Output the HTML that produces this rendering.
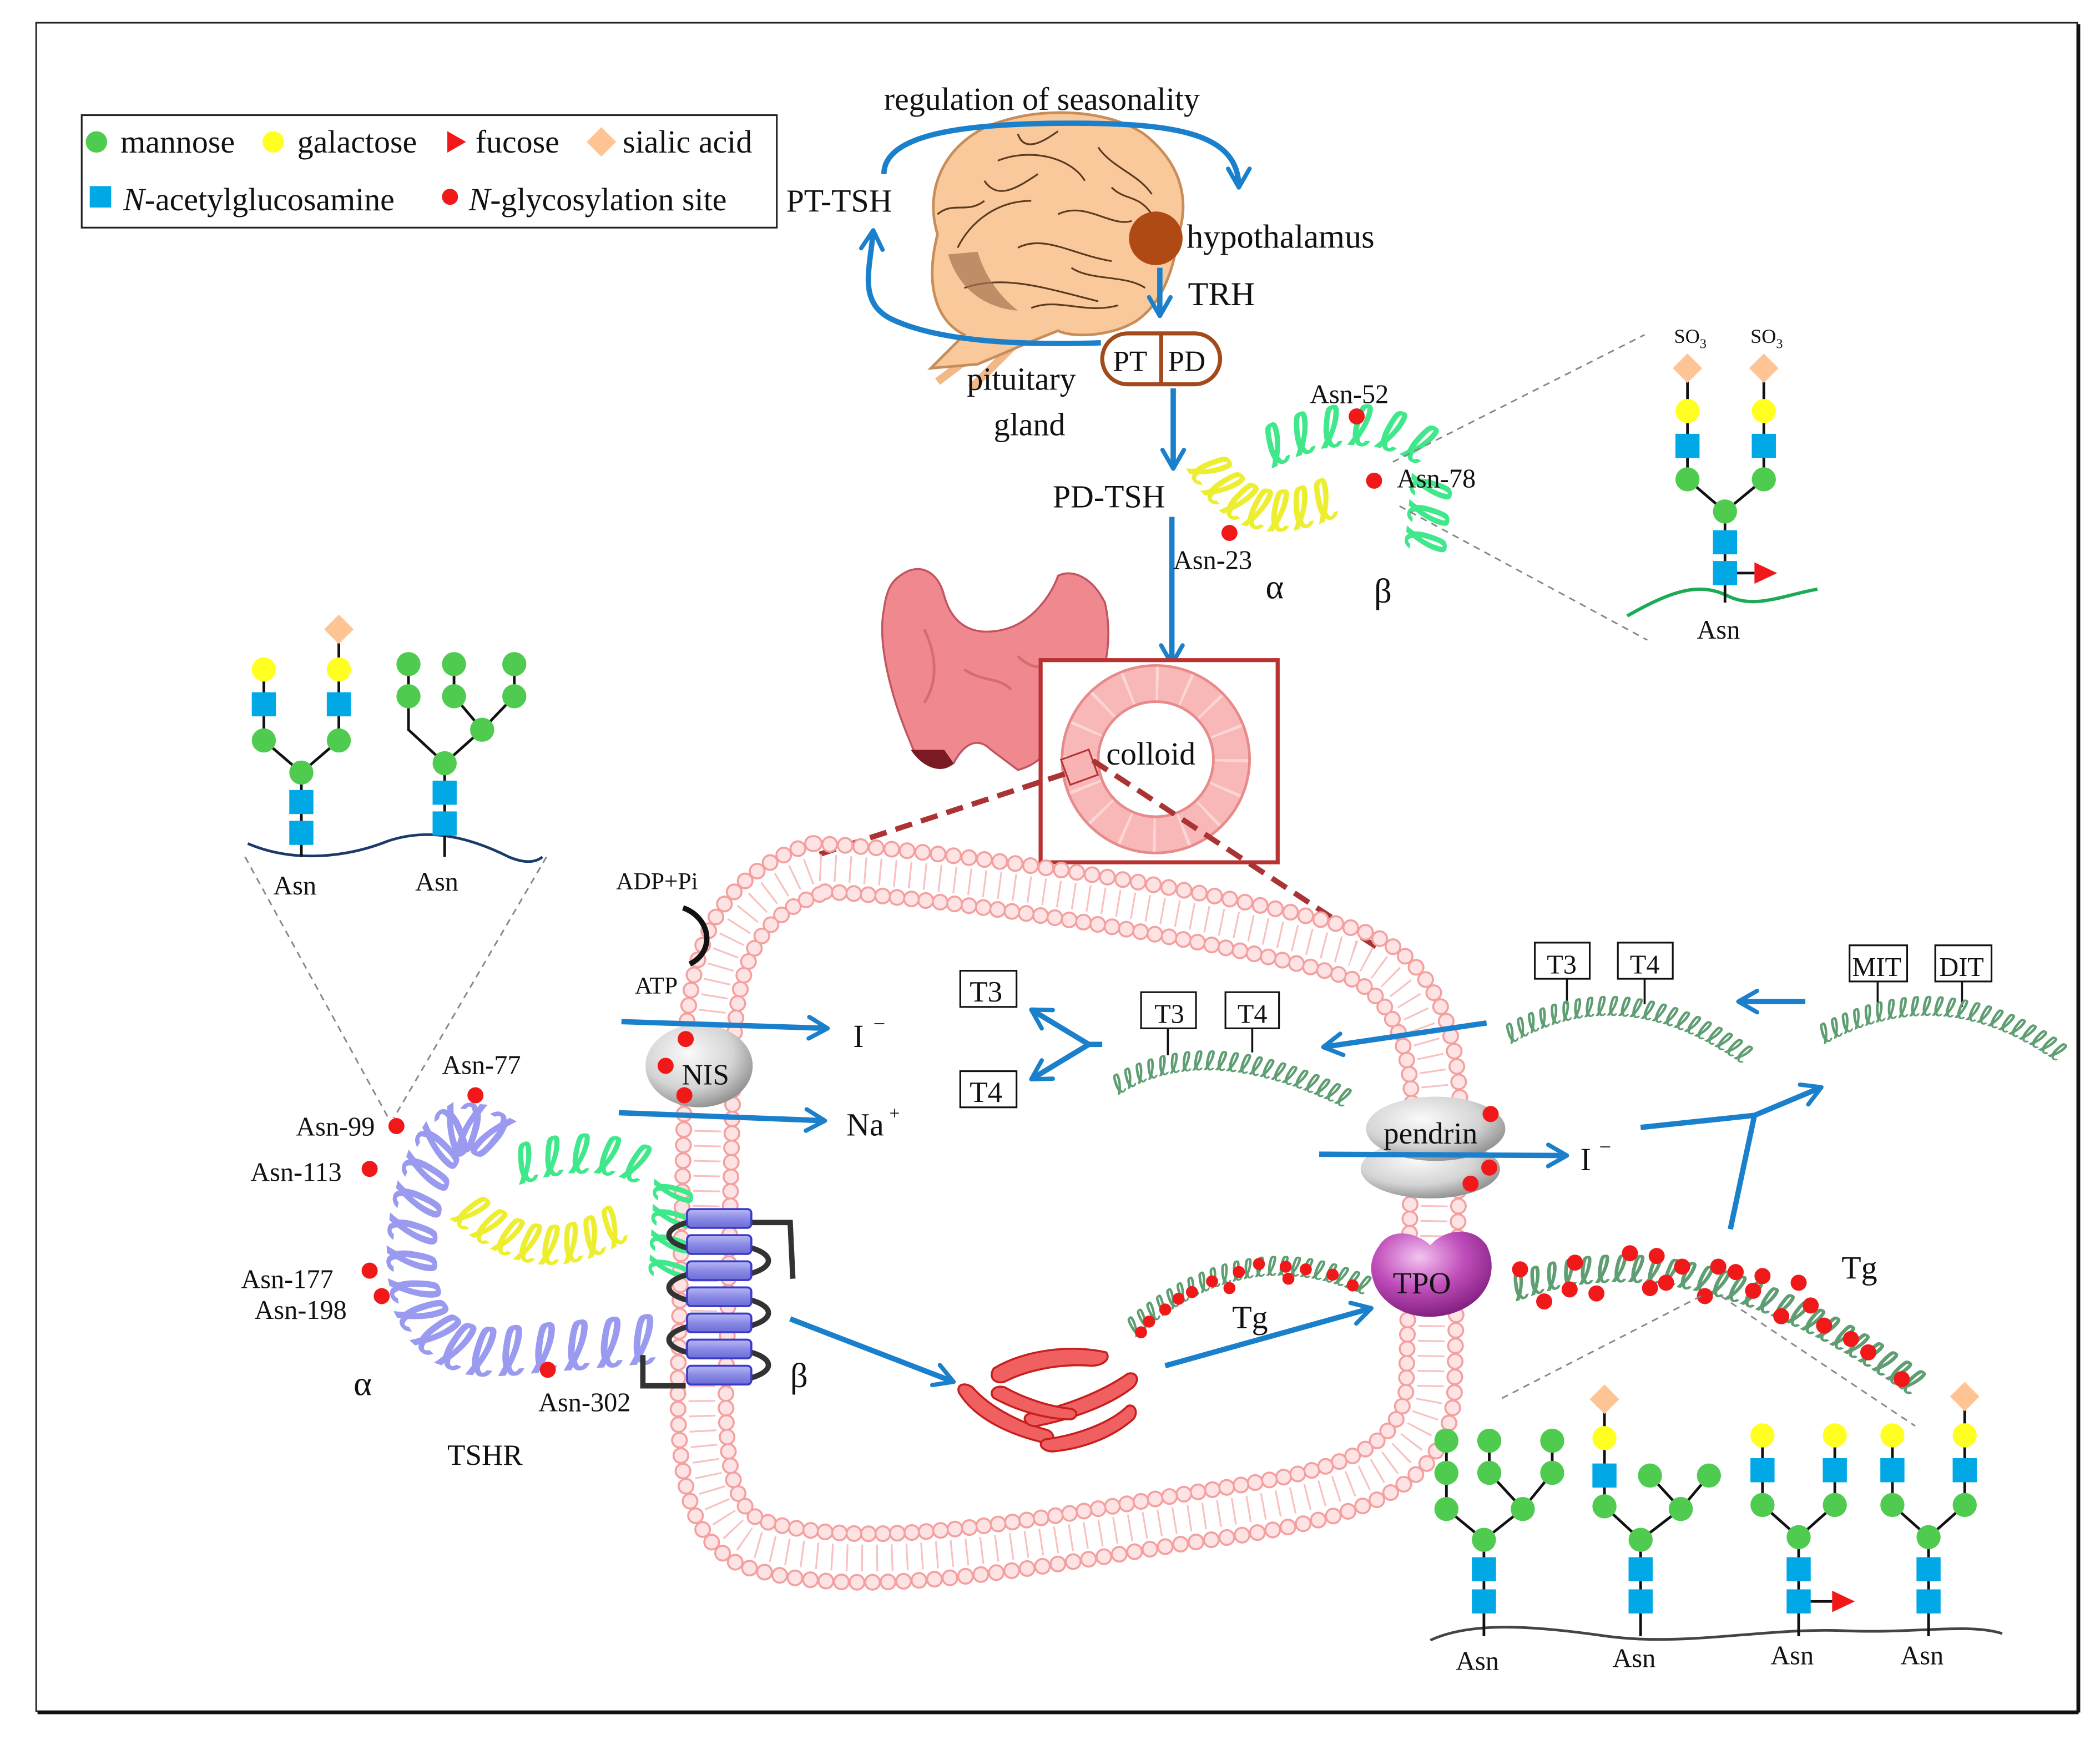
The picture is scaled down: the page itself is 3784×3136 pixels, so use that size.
<!DOCTYPE html>
<html><head><meta charset="utf-8">
<style>
html,body{margin:0;padding:0;background:#fff}
svg{display:block}
text{font-family:"Liberation Serif",serif;fill:#111}
text.coil{font-family:"DejaVu Sans",sans-serif;font-weight:bold}
text.cy{fill:#eeee30}
text.cg{fill:#3fe88a}
text.cp{fill:#9a9af0}
text.ct{fill:#5e9e72}
</style></head>
<body>
<svg xmlns="http://www.w3.org/2000/svg" xmlns:xlink="http://www.w3.org/1999/xlink" width="3784" height="3136" viewBox="0 0 1568 1299.5">
<defs>
<marker id="ah" viewBox="0 0 10 10" refX="8" refY="5" markerWidth="5" markerHeight="5" orient="auto" markerUnits="strokeWidth">
<path d="M1 1 L8 5 L1 9" fill="none" stroke="#1b80cc" stroke-width="1.6" stroke-linecap="round" stroke-linejoin="round"/>
</marker>
<radialGradient id="gray" cx="40%" cy="35%" r="70%"><stop offset="0" stop-color="#fafafa"/><stop offset="0.6" stop-color="#d4d4d4"/><stop offset="1" stop-color="#8a8a8a"/></radialGradient>
<radialGradient id="purp" cx="40%" cy="30%" r="75%"><stop offset="0" stop-color="#f3c4f0"/><stop offset="0.5" stop-color="#c04dbb"/><stop offset="1" stop-color="#7a1a78"/></radialGradient>
<linearGradient id="cyl" x1="0" y1="0" x2="0" y2="1"><stop offset="0" stop-color="#b8b8f5"/><stop offset="0.5" stop-color="#8a8ae6"/><stop offset="1" stop-color="#6d6dd6"/></linearGradient>
<path id="c1" d="M835 818 Q900 776 1005 828"/>
<path id="c2" d="M1128 780 Q1210 731 1300 794"/>
<path id="c3" d="M1362 780 Q1450 731 1537 794"/>
<path id="c4" d="M848 999 Q930 926 1020 968"/>
<path id="c5" d="M1132 972 Q1260 922 1430 1045"/>
<path id="y1" d="M886 350 Q925 420 1000 385"/>
<path id="g1" d="M950 350 Q1010 318 1055 345 L1048 418"/>
<path id="y2" d="M336 910 Q400 970 470 925"/>
<path id="g2" d="M388 885 Q445 865 488 890 L484 960"/>
<path id="p1" d="M385 838 Q330 800 303 865 Q280 925 295 980 Q315 1028 370 1028 L490 1018"/>
</defs>

<!-- frame -->
<rect x="27" y="17" width="1524" height="1261" fill="none" stroke="#222" stroke-width="1.2"/>
<line x1="1552" y1="18" x2="1552" y2="1279" stroke="#111" stroke-width="2.5"/>
<line x1="28" y1="1279" x2="1552" y2="1279" stroke="#111" stroke-width="2.5"/>

<!-- legend -->
<rect x="61" y="86" width="519" height="84" fill="#fff" stroke="#222" stroke-width="1.3"/>
<circle cx="72" cy="106" r="8" fill="#4fcb4f"/><text x="90" y="114" font-size="24">mannose</text>
<circle cx="204" cy="106" r="8" fill="#ffff22"/><text x="222" y="114" font-size="24">galactose</text>
<path d="M334 98 L348 106 L334 114Z" fill="#f01818"/><text x="355" y="114" font-size="24">fucose</text>
<path d="M449 95 L460 106 L449 117 L438 106Z" fill="#ffc494"/><text x="465" y="114" font-size="24">sialic acid</text>
<rect x="67" y="139" width="16" height="16" fill="#00a8e6"/><text x="92" y="157" font-size="24"><tspan font-style="italic">N</tspan>-acetylglucosamine</text>
<circle cx="336" cy="147" r="6" fill="#f01818"/><text x="350" y="157" font-size="24"><tspan font-style="italic">N</tspan>-glycosylation site</text>

<!-- brain -->
<g>
<path d="M740 255 L700 285 M760 255 L725 290" stroke="#f2b888" stroke-width="6" fill="none"/>
<path d="M700 175 C688 135 712 100 750 90 C790 78 840 85 860 105 C882 125 888 150 880 175 C876 205 866 228 848 240 C828 252 800 252 790 247 L770 255 L730 272 L695 275 L720 250 C700 240 690 215 700 175Z" fill="#f9c99b" stroke="#c88e5a" stroke-width="2"/>
<path d="M715 185 C725 165 745 150 770 150 M745 120 C770 110 800 118 810 135 M790 160 C810 150 830 170 845 165 M720 215 C750 205 780 215 820 225 M760 185 C780 175 800 190 830 195 M735 135 C745 150 760 140 775 130 M820 110 C830 125 850 130 860 145 M800 200 C815 210 840 205 855 215 M760 100 C765 115 780 105 790 98 M830 140 C840 150 850 145 860 160 M700 160 C712 150 722 160 735 150 M770 230 C790 222 810 235 835 228" fill="none" stroke="#5a3a20" stroke-width="1.3"/>
<path d="M708 190 C715 215 735 230 760 232 C745 220 735 205 730 188Z" fill="#a57550" opacity="0.7"/>
</g>
<text x="660" y="82" font-size="24">regulation of seasonality</text>
<path d="M660 130 C660 100 720 92 800 92 C880 92 925 100 925 140" fill="none" stroke="#1b80cc" stroke-width="4" marker-end="url(#ah)"/>
<path d="M822 256 C760 258 700 255 665 238 C640 225 650 200 652 172" fill="none" stroke="#1b80cc" stroke-width="4" marker-end="url(#ah)"/>
<text x="587" y="158" font-size="24">PT-TSH</text>
<circle cx="863" cy="178" r="20" fill="#b04a14"/>
<text x="886" y="185" font-size="25">hypothalamus</text>
<line x1="866" y1="200" x2="866" y2="236" stroke="#1b80cc" stroke-width="4" marker-end="url(#ah)"/>
<text x="887" y="228" font-size="25">TRH</text>
<rect x="823" y="249" width="88" height="38" rx="19" fill="#fff" stroke="#a24a1a" stroke-width="3"/>
<line x1="867" y1="249" x2="867" y2="287" stroke="#a24a1a" stroke-width="3"/>
<text x="831" y="277" font-size="22">PT</text><text x="872" y="277" font-size="22">PD</text>
<text x="722" y="291" font-size="24">pituitary</text>
<text x="742" y="325" font-size="24">gland</text>
<line x1="876" y1="290" x2="876" y2="350" stroke="#1b80cc" stroke-width="4" marker-end="url(#ah)"/>
<text x="786" y="379" font-size="24">PD-TSH</text>
<line x1="875" y1="386" x2="875" y2="496" stroke="#1b80cc" stroke-width="4" marker-end="url(#ah)"/>

<!-- TSH top -->
<text class="coil cy" font-size="42" letter-spacing="0"><textPath xlink:href="#y1" href="#y1">ℓℓℓℓℓℓℓℓℓℓℓℓ</textPath></text>
<text class="coil cg" font-size="42" letter-spacing="0"><textPath xlink:href="#g1" href="#g1">ℓℓℓℓℓℓℓℓℓℓℓℓℓℓ</textPath></text>
<circle cx="1013" cy="311" r="6" fill="#f01818"/>
<circle cx="1026" cy="359" r="6" fill="#f01818"/>
<circle cx="918" cy="398" r="6" fill="#f01818"/>
<text x="978" y="301" font-size="20">Asn-52</text>
<text x="1043" y="364" font-size="20">Asn-78</text>
<text x="876" y="425" font-size="20">Asn-23</text>
<text x="945" y="447" font-size="26">α</text>
<text x="1026" y="450" font-size="26">β</text>

<!-- top-right glycan -->
<line x1="1040" y1="345" x2="1228" y2="250" stroke="#888" stroke-width="1.2" stroke-dasharray="5 4"/>
<line x1="1045" y1="378" x2="1230" y2="478" stroke="#888" stroke-width="1.2" stroke-dasharray="5 4"/>
<path d="M1215 460 C1250 440 1270 435 1290 445 C1310 455 1330 445 1357 440" fill="none" stroke="#1daa55" stroke-width="2.5"/>
<g stroke="#111" stroke-width="2" fill="none">
<path d="M1288 450 V382 L1260 358 V275 M1288 382 L1317 358 V275 M1288 428 H1310"/>
</g>
<path d="M1310 420 L1327 428 L1310 436Z" fill="#f01818"/>
<g fill="#00a8e6"><rect x="1279" y="419" width="18" height="18"/><rect x="1279" y="396" width="18" height="18"/><rect x="1251" y="324" width="18" height="18"/><rect x="1308" y="324" width="18" height="18"/></g>
<g fill="#4fcb4f"><circle cx="1288" cy="382" r="9"/><circle cx="1260" cy="358" r="9"/><circle cx="1317" cy="358" r="9"/></g>
<g fill="#ffff22"><circle cx="1260" cy="307" r="9"/><circle cx="1317" cy="307" r="9"/></g>
<g fill="#ffc494"><path d="M1260 264 L1271 275 L1260 286 L1249 275Z"/><path d="M1317 264 L1328 275 L1317 286 L1306 275Z"/></g>
<text x="1250" y="256" font-size="15">SO<tspan font-size="10" dy="4">3</tspan></text>
<text x="1307" y="256" font-size="15">SO<tspan font-size="10" dy="4">3</tspan></text>
<text x="1267" y="477" font-size="20">Asn</text>

<!-- thyroid gland -->
<path d="M672 430 C685 420 700 425 705 445 C712 470 730 475 750 470 C770 465 785 445 790 430 C800 425 815 430 825 450 C832 480 825 520 800 540 C785 555 780 570 760 575 L740 560 C730 550 720 555 712 570 C700 578 685 570 680 555 C665 520 655 480 660 455 C662 440 666 434 672 430Z" fill="#f0898f" stroke="#c2555f" stroke-width="1.5"/>
<path d="M680 560 C690 575 705 578 712 570 L705 560Z" fill="#7a1a22"/>
<path d="M690 470 C700 490 700 510 690 525 M760 490 C770 500 780 500 790 495 M720 500 C735 510 745 505 755 515" stroke="#d86a70" fill="none" stroke-width="2"/>

<!-- colloid -->
<rect x="777" y="493" width="177" height="151" fill="#fff" stroke="#b83232" stroke-width="3"/>
<circle cx="863" cy="567" r="56.5" fill="none" stroke="#e88a8a" stroke-width="29"/>
<circle cx="863" cy="567" r="56.5" fill="none" stroke="#f8b8b8" stroke-width="25"/>
<circle cx="863" cy="567" r="56.5" fill="none" stroke="#fcd6d6" stroke-width="25" stroke-dasharray="2 20.18"/>
<text x="826" y="571" font-size="24">colloid</text>
<rect x="795" y="563" width="22" height="20" fill="#f8b4b4" stroke="#b83232" stroke-width="1.3" transform="rotate(-20 806 573)"/>
<line x1="795" y1="578" x2="612" y2="638" stroke="#a33" stroke-width="4" stroke-dasharray="13 7"/>
<line x1="816" y1="568" x2="1032" y2="710" stroke="#a33" stroke-width="4" stroke-dasharray="13 7"/>

<!-- membrane -->
<path d="M612 648 C700 652 900 680 1010 712 C1060 730 1075 790 1072 850 L1068 1040 C1060 1110 980 1120 880 1135 C760 1155 640 1178 560 1152 C525 1132 522 1080 525 1000 L530 780 C533 700 560 665 612 648 Z" fill="none" stroke="#f8c0c0" stroke-width="20" stroke-dasharray="1.3 9.9"/>
<path d="M608 630 C700 634 905 662 1016 695 C1078 716 1093 785 1090 850 L1086 1042 C1078 1125 990 1138 883 1153 C760 1173 635 1197 553 1169 C507 1145 504 1085 507 1000 L512 780 C515 690 548 650 606 630 Z" fill="none" stroke="#f4a0a0" stroke-width="12.5" stroke-linecap="round" stroke-dasharray="0 11.6"/>
<path d="M608 630 C700 634 905 662 1016 695 C1078 716 1093 785 1090 850 L1086 1042 C1078 1125 990 1138 883 1153 C760 1173 635 1197 553 1169 C507 1145 504 1085 507 1000 L512 780 C515 690 548 650 606 630 Z" fill="none" stroke="#fde3e3" stroke-width="9.5" stroke-linecap="round" stroke-dasharray="0 11.6"/>
<path d="M616 666 C700 670 895 698 1004 729 C1045 744 1057 795 1054 850 L1050 1038 C1042 1095 970 1102 877 1117 C760 1137 645 1159 567 1135 C543 1120 540 1080 543 1000 L548 780 C551 710 572 680 618 666 Z" fill="none" stroke="#f4a0a0" stroke-width="12.5" stroke-linecap="round" stroke-dasharray="0 10.8"/>
<path d="M616 666 C700 670 895 698 1004 729 C1045 744 1057 795 1054 850 L1050 1038 C1042 1095 970 1102 877 1117 C760 1137 645 1159 567 1135 C543 1120 540 1080 543 1000 L548 780 C551 710 572 680 618 666 Z" fill="none" stroke="#fde3e3" stroke-width="9.5" stroke-linecap="round" stroke-dasharray="0 10.8"/>

<!-- top-left glycans -->
<line x1="183" y1="640" x2="290" y2="835" stroke="#888" stroke-width="1.2" stroke-dasharray="5 4"/>
<line x1="408" y1="640" x2="294" y2="835" stroke="#888" stroke-width="1.2" stroke-dasharray="5 4"/>
<path d="M185 630 C220 645 260 640 290 628 C320 618 350 625 380 640 C392 645 400 644 405 640" fill="none" stroke="#1a3a6a" stroke-width="2"/>
<g stroke="#111" stroke-width="2" fill="none">
<path d="M225 640 V577 L197 553 V500 M225 577 L253 553 V470"/>
<path d="M332 640 V570 L305 545 V496 M332 570 L360 545 L384 520 V496 M360 545 L339 520 V496"/>
</g>
<g fill="#00a8e6"><rect x="216" y="613" width="18" height="18"/><rect x="216" y="590" width="18" height="18"/><rect x="188" y="517" width="18" height="18"/><rect x="244" y="517" width="18" height="18"/><rect x="323" y="606" width="18" height="18"/><rect x="323" y="583" width="18" height="18"/></g>
<g fill="#4fcb4f"><circle cx="225" cy="577" r="9"/><circle cx="197" cy="553" r="9"/><circle cx="253" cy="553" r="9"/><circle cx="332" cy="570" r="9"/><circle cx="360" cy="545" r="9"/><circle cx="305" cy="520" r="9"/><circle cx="339" cy="520" r="9"/><circle cx="384" cy="520" r="9"/><circle cx="305" cy="496" r="9"/><circle cx="339" cy="496" r="9"/><circle cx="384" cy="496" r="9"/></g>
<g fill="#ffff22"><circle cx="197" cy="500" r="9"/><circle cx="253" cy="500" r="9"/></g>
<path d="M253 459 L264 470 L253 481 L242 470Z" fill="#ffc494"/>
<text x="204" y="668" font-size="20">Asn</text>
<text x="310" y="665" font-size="20">Asn</text>

<!-- NIS -->
<text x="460" y="664" font-size="18">ADP+Pi</text>
<path d="M510 678 C530 685 535 710 515 720" fill="none" stroke="#111" stroke-width="4"/>
<text x="474" y="742" font-size="18">ATP</text>
<ellipse cx="522" cy="796" rx="40" ry="31" fill="url(#gray)"/>
<circle cx="512" cy="776" r="6" fill="#f01818"/><circle cx="497" cy="796" r="6" fill="#f01818"/><circle cx="511" cy="818" r="6" fill="#f01818"/>
<text x="509" y="810" font-size="22">NIS</text>
<line x1="464" y1="763" x2="618" y2="768" stroke="#1b80cc" stroke-width="4" marker-end="url(#ah)"/>
<line x1="462" y1="831" x2="616" y2="837" stroke="#1b80cc" stroke-width="4" marker-end="url(#ah)"/>
<text x="637" y="782" font-size="24">I</text><text x="652" y="770" font-size="16">−</text>
<text x="632" y="848" font-size="24">Na</text><text x="664" y="836" font-size="14">+</text>

<!-- T3 T4 inside -->
<rect x="717" y="725" width="42" height="27" fill="#fff" stroke="#111" stroke-width="1.3"/><text x="724" y="748" font-size="22">T3</text>
<rect x="717" y="800" width="42" height="27" fill="#fff" stroke="#111" stroke-width="1.3"/><text x="724" y="823" font-size="22">T4</text>
<line x1="823" y1="780" x2="813" y2="780" stroke="#1b80cc" stroke-width="4"/>
<line x1="813" y1="780" x2="770" y2="754" stroke="#1b80cc" stroke-width="4" marker-end="url(#ah)"/>
<line x1="813" y1="780" x2="770" y2="806" stroke="#1b80cc" stroke-width="4" marker-end="url(#ah)"/>
<rect x="852" y="741" width="41" height="27" fill="#fff" stroke="#111" stroke-width="1.3"/><text x="862" y="764" font-size="20">T3</text>
<rect x="915" y="741" width="40" height="27" fill="#fff" stroke="#111" stroke-width="1.3"/><text x="924" y="764" font-size="20">T4</text>
<line x1="872" y1="768" x2="872" y2="788" stroke="#111" stroke-width="1.5"/>
<line x1="935" y1="768" x2="935" y2="786" stroke="#111" stroke-width="1.5"/>

<line x1="1110" y1="764" x2="988" y2="782" stroke="#1b80cc" stroke-width="4" marker-end="url(#ah)"/>
<rect x="1146" y="704" width="41" height="27" fill="#fff" stroke="#111" stroke-width="1.3"/><text x="1155" y="727" font-size="20">T3</text>
<rect x="1208" y="704" width="41" height="27" fill="#fff" stroke="#111" stroke-width="1.3"/><text x="1217" y="727" font-size="20">T4</text>
<line x1="1170" y1="731" x2="1170" y2="750" stroke="#111" stroke-width="1.5"/>
<line x1="1228" y1="731" x2="1228" y2="750" stroke="#111" stroke-width="1.5"/>
<line x1="1348" y1="748" x2="1298" y2="748" stroke="#1b80cc" stroke-width="4" marker-end="url(#ah)"/>
<rect x="1381" y="706" width="43" height="27" fill="#fff" stroke="#111" stroke-width="1.3"/><text x="1383" y="729" font-size="20">MIT</text>
<rect x="1445" y="706" width="42" height="27" fill="#fff" stroke="#111" stroke-width="1.3"/><text x="1448" y="729" font-size="20">DIT</text>
<line x1="1402" y1="733" x2="1402" y2="752" stroke="#111" stroke-width="1.5"/>
<line x1="1465" y1="733" x2="1465" y2="752" stroke="#111" stroke-width="1.5"/>

<!-- Tg coils -->
<text class="coil ct" font-size="20" letter-spacing="-1"><textPath xlink:href="#c1" href="#c1">ℓℓℓℓℓℓℓℓℓℓℓℓℓℓℓℓℓℓℓℓℓℓℓℓℓℓℓℓℓℓℓℓ</textPath></text>
<text class="coil ct" font-size="20" letter-spacing="-1"><textPath xlink:href="#c2" href="#c2">ℓℓℓℓℓℓℓℓℓℓℓℓℓℓℓℓℓℓℓℓℓℓℓℓℓℓℓℓℓℓℓℓ</textPath></text>
<text class="coil ct" font-size="20" letter-spacing="-1"><textPath xlink:href="#c3" href="#c3">ℓℓℓℓℓℓℓℓℓℓℓℓℓℓℓℓℓℓℓℓℓℓℓℓℓℓℓℓℓℓℓℓ</textPath></text>
<text class="coil ct" font-size="20" letter-spacing="-1"><textPath xlink:href="#c4" href="#c4">ℓℓℓℓℓℓℓℓℓℓℓℓℓℓℓℓℓℓℓℓℓℓℓℓℓℓℓℓℓℓℓℓ</textPath></text>
<text class="coil ct" font-size="28" letter-spacing="-1"><textPath xlink:href="#c5" href="#c5">ℓℓℓℓℓℓℓℓℓℓℓℓℓℓℓℓℓℓℓℓℓℓℓℓℓℓℓℓℓℓℓℓℓℓℓℓ</textPath></text>
<g fill="#f01818">
<circle cx="858" cy="987" r="4.5"/><circle cx="870" cy="978" r="4.5"/><circle cx="890" cy="965" r="4.5"/><circle cx="905" cy="957" r="4.5"/><circle cx="925" cy="950" r="4.5"/><circle cx="940" cy="944" r="4.5"/><circle cx="960" cy="946" r="4.5"/><circle cx="975" cy="948" r="4.5"/><circle cx="995" cy="952" r="4.5"/><circle cx="1010" cy="960" r="4.5"/><circle cx="852" cy="995" r="4.5"/><circle cx="880" cy="970" r="4.5"/><circle cx="918" cy="962" r="4.5"/><circle cx="962" cy="955" r="4.5"/>
<circle cx="1135" cy="948" r="6"/><circle cx="1153" cy="972" r="6"/><circle cx="1176" cy="943" r="6"/><circle cx="1172" cy="963" r="6"/><circle cx="1192" cy="966" r="6"/><circle cx="1217" cy="936" r="6"/><circle cx="1237" cy="938" r="6"/><circle cx="1244" cy="958" r="6"/><circle cx="1256" cy="946" r="6"/><circle cx="1273" cy="968" r="6"/><circle cx="1283" cy="946" r="6"/><circle cx="1296" cy="950" r="6"/><circle cx="1309" cy="964" r="6"/><circle cx="1316" cy="953" r="6"/><circle cx="1330" cy="983" r="6"/><circle cx="1343" cy="958" r="6"/><circle cx="1352" cy="975" r="6"/><circle cx="1362" cy="990" r="6"/><circle cx="1382" cy="1000" r="6"/><circle cx="1395" cy="1010" r="6"/><circle cx="1420" cy="1030" r="6"/><circle cx="1232" cy="962" r="6"/>
</g>

<!-- pendrin -->
<ellipse cx="1068" cy="873" rx="52" ry="22" fill="url(#gray)"/>
<ellipse cx="1072" cy="843" rx="52" ry="24" fill="url(#gray)"/>
<circle cx="1113" cy="832" r="6" fill="#f01818"/><circle cx="1112" cy="872" r="6" fill="#f01818"/><circle cx="1098" cy="884" r="6" fill="#f01818"/>
<text x="1033" y="854" font-size="23">pendrin</text>
<line x1="985" y1="862" x2="1170" y2="863" stroke="#1b80cc" stroke-width="4" marker-end="url(#ah)"/>
<text x="1180" y="874" font-size="24">I</text><text x="1194" y="862" font-size="16">−</text>
<path d="M1225 842 L1310 833 L1292 918" fill="none" stroke="#1b80cc" stroke-width="4"/>
<line x1="1310" y1="833" x2="1360" y2="812" stroke="#1b80cc" stroke-width="4" marker-end="url(#ah)"/>

<!-- TPO -->
<path d="M1030 930 C1040 915 1060 922 1068 930 C1078 918 1100 915 1110 930 C1120 950 1110 975 1080 982 C1055 988 1030 975 1025 955 C1022 945 1025 937 1030 930Z" fill="url(#purp)"/>
<text x="1040" y="966" font-size="23">TPO</text>
<text x="1375" y="955" font-size="24">Tg</text>
<text x="920" y="992" font-size="24">Tg</text>
<line x1="870" y1="1020" x2="1024" y2="977" stroke="#1b80cc" stroke-width="4" marker-end="url(#ah)"/>
<line x1="590" y1="985" x2="712" y2="1032" stroke="#1b80cc" stroke-width="4" marker-end="url(#ah)"/>

<!-- ER -->
<g fill="#f06060" stroke="#c81e1e" stroke-width="1.5" stroke-linejoin="round">
<path d="M742 1022 C765 1008 800 1004 826 1010 C830 1016 822 1020 815 1020 C790 1018 765 1024 750 1032 C742 1034 738 1028 742 1022Z"/>
<path d="M716 1040 C728 1060 755 1072 782 1078 C788 1078 788 1070 782 1068 C760 1062 738 1050 726 1036 C720 1032 714 1034 716 1040Z"/>
<path d="M768 1056 C795 1050 822 1040 842 1026 C848 1024 852 1030 846 1036 C828 1050 800 1060 774 1065 C766 1066 762 1058 768 1056Z"/>
<path d="M742 1044 C760 1054 782 1060 800 1060 C806 1058 804 1052 798 1052 C782 1050 764 1044 750 1036 C742 1034 738 1040 742 1044Z"/>
<path d="M780 1075 C805 1072 830 1062 842 1050 C848 1048 850 1056 846 1060 C830 1074 808 1082 786 1084 C778 1084 774 1078 780 1075Z"/>
</g>

<!-- TSHR -->
<text class="coil cp" font-size="50" letter-spacing="1"><textPath xlink:href="#p1" href="#p1">ℓℓℓℓℓℓℓℓℓℓℓℓℓℓℓℓℓℓℓℓℓℓ</textPath></text>
<text class="coil cy" font-size="40" letter-spacing="0"><textPath xlink:href="#y2" href="#y2">ℓℓℓℓℓℓℓℓℓℓℓℓ</textPath></text>
<text class="coil cg" font-size="40" letter-spacing="0"><textPath xlink:href="#g2" href="#g2">ℓℓℓℓℓℓℓℓℓℓℓℓℓℓ</textPath></text>
<path d="M480 1012 L480 1035 L512 1035" fill="none" stroke="#333" stroke-width="4"/>
<path d="M513 913 C495 918 495 927 513 932 M561 932 C578 937 578 946 561 951 M513 952 C495 957 495 966 513 971 M561 971 C578 976 578 985 561 990 M513 991 C495 996 495 1005 513 1010 M561 1010 C578 1015 578 1024 561 1029 M561 913 L590 913 L592 955" fill="none" stroke="#333" stroke-width="4"/>
<g fill="url(#cyl)" stroke="#3a3ac8" stroke-width="1.5">
<rect x="513" y="903" width="48" height="14" rx="3"/><rect x="513" y="922.5" width="48" height="14" rx="3"/><rect x="513" y="942" width="48" height="14" rx="3"/><rect x="513" y="961.5" width="48" height="14" rx="3"/><rect x="513" y="981" width="48" height="14" rx="3"/><rect x="513" y="1000.5" width="48" height="14" rx="3"/><rect x="513" y="1020" width="48" height="14" rx="3"/>
</g>
<circle cx="355" cy="818" r="6" fill="#f01818"/>
<circle cx="296" cy="841" r="6" fill="#f01818"/>
<circle cx="276" cy="873" r="6" fill="#f01818"/>
<circle cx="276" cy="949" r="6" fill="#f01818"/>
<circle cx="285" cy="968" r="6" fill="#f01818"/>
<circle cx="409" cy="1023" r="6" fill="#f01818"/>
<text x="330" y="802" font-size="20">Asn-77</text>
<text x="221" y="848" font-size="20">Asn-99</text>
<text x="187" y="882" font-size="20">Asn-113</text>
<text x="180" y="962" font-size="20">Asn-177</text>
<text x="190" y="985" font-size="20">Asn-198</text>
<text x="402" y="1054" font-size="20">Asn-302</text>
<text x="264" y="1042" font-size="26">α</text>
<text x="590" y="1036" font-size="26">β</text>
<text x="334" y="1094" font-size="22">TSHR</text>

<!-- bottom right glycans -->
<line x1="1270" y1="968" x2="1120" y2="1045" stroke="#888" stroke-width="1.2" stroke-dasharray="5 4"/>
<line x1="1285" y1="968" x2="1430" y2="1065" stroke="#888" stroke-width="1.2" stroke-dasharray="5 4"/>
<path d="M1068 1225 C1100 1210 1150 1215 1200 1222 C1260 1230 1320 1215 1380 1218 C1430 1220 1470 1212 1495 1220" fill="none" stroke="#444" stroke-width="2"/>
<g stroke="#111" stroke-width="2" fill="none">
<path d="M1108 1222 V1150 L1080 1127 V1076 M1108 1150 L1137 1127 L1112 1100 V1076 M1137 1127 L1159 1100 V1076"/>
<path d="M1225 1222 V1150 L1198 1125 V1045 M1225 1150 L1255 1127 L1232 1102 M1255 1127 L1276 1102"/>
<path d="M1343 1222 V1148 L1316 1124 V1072 M1343 1148 L1370 1124 V1072 M1343 1196 H1368"/>
<path d="M1440 1222 V1148 L1413 1124 V1072 M1440 1148 L1467 1124 V1043"/>
</g>
<path d="M1368 1188 L1385 1196 L1368 1204Z" fill="#f01818"/>
<g fill="#00a8e6">
<rect x="1099" y="1187" width="18" height="18"/><rect x="1099" y="1163" width="18" height="18"/>
<rect x="1216" y="1187" width="18" height="18"/><rect x="1216" y="1163" width="18" height="18"/><rect x="1189" y="1093" width="18" height="18"/>
<rect x="1334" y="1187" width="18" height="18"/><rect x="1334" y="1163" width="18" height="18"/><rect x="1307" y="1089" width="18" height="18"/><rect x="1361" y="1089" width="18" height="18"/>
<rect x="1431" y="1187" width="18" height="18"/><rect x="1431" y="1163" width="18" height="18"/><rect x="1404" y="1089" width="18" height="18"/><rect x="1458" y="1089" width="18" height="18"/>
</g>
<g fill="#4fcb4f">
<circle cx="1108" cy="1150" r="9"/><circle cx="1080" cy="1127" r="9"/><circle cx="1137" cy="1127" r="9"/><circle cx="1080" cy="1100" r="9"/><circle cx="1080" cy="1076" r="9"/><circle cx="1112" cy="1100" r="9"/><circle cx="1112" cy="1076" r="9"/><circle cx="1159" cy="1100" r="9"/><circle cx="1159" cy="1076" r="9"/>
<circle cx="1225" cy="1150" r="9"/><circle cx="1255" cy="1127" r="9"/><circle cx="1232" cy="1102" r="9"/><circle cx="1276" cy="1102" r="9"/><circle cx="1198" cy="1125" r="9"/>
<circle cx="1343" cy="1148" r="9"/><circle cx="1316" cy="1124" r="9"/><circle cx="1370" cy="1124" r="9"/>
<circle cx="1440" cy="1148" r="9"/><circle cx="1413" cy="1124" r="9"/><circle cx="1467" cy="1124" r="9"/>
</g>
<g fill="#ffff22"><circle cx="1198" cy="1074" r="9"/><circle cx="1316" cy="1072" r="9"/><circle cx="1370" cy="1072" r="9"/><circle cx="1413" cy="1072" r="9"/><circle cx="1467" cy="1072" r="9"/></g>
<g fill="#ffc494"><path d="M1198 1034 L1209 1045 L1198 1056 L1187 1045Z"/><path d="M1467 1032 L1478 1043 L1467 1054 L1456 1043Z"/></g>
<text x="1087" y="1247" font-size="20">Asn</text>
<text x="1204" y="1245" font-size="20">Asn</text>
<text x="1322" y="1243" font-size="20">Asn</text>
<text x="1419" y="1243" font-size="20">Asn</text>
</svg>
</body></html>
